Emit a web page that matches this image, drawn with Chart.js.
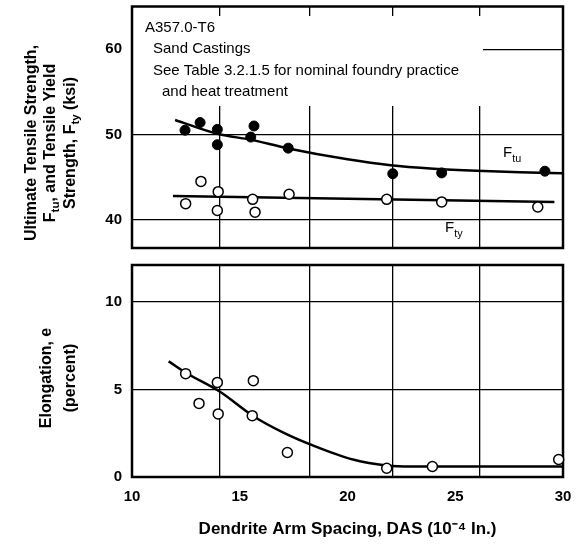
<!DOCTYPE html>
<html>
<head>
<meta charset="utf-8">
<script src="https://cdn.jsdelivr.net/npm/chart.js@4.4.0/dist/chart.umd.min.js"></script>
<style>
  body { margin: 0; background: #fff; }
  #wrap { position: relative; width: 581px; height: 548px; }
  #top { position: absolute; left: 0; top: 0; }
  #bot { position: absolute; left: 0; top: 255px; }
</style>
</head>
<body>
<div id="wrap">
  <canvas id="top" width="581" height="260" style="width:581px;height:260px"></canvas>
  <canvas id="bot" width="581" height="293" style="width:581px;height:293px"></canvas>
</div>
<script>
// axis ticks / grid positions
const xTicks = [10, 15, 20, 25, 30];
const gridX = [14.08, 18.26, 22.1, 26.15];
const strengthTicks = [40, 50, 60];
const elongTicks = [0, 5, 10];

// measured points
const ftuX = [12.46, 13.16, 13.96, 13.96, 15.51, 15.66, 17.25, 22.1, 24.37, 29.16];
const ftuY = [50.5, 51.4, 50.6, 48.8, 49.7, 51.0, 48.4, 45.4, 45.5, 45.7];
const ftyX = [12.49, 13.2, 14.0, 13.96, 15.6, 15.71, 17.29, 21.82, 24.37, 28.83];
const ftyY = [41.9, 44.5, 43.3, 41.1, 42.4, 40.9, 43.0, 42.4, 42.1, 41.5];
const elongX = [12.49, 13.11, 13.96, 14.0, 15.63, 15.58, 17.21, 21.82, 23.94, 29.8];
const elongY = [5.9, 4.2, 5.4, 3.6, 5.5, 3.5, 1.4, 0.5, 0.6, 1.0];

// fitted curves
const ftuCurveX = [12.0, 14.0, 15.5, 17.2, 20, 22, 24, 26, 28, 30];
const ftuCurveY = [51.7, 50.05, 49.4, 48.4, 47.1, 46.4, 46.0, 45.75, 45.58, 45.45];
const ftyLineX = [11.9, 29.6];
const ftyLineY = [42.8, 42.1];
const elongCurveX = [11.7, 12.5, 14.1, 15.6, 17.0, 18.3, 20.3, 21.8, 23.0, 25, 30];
const elongCurveY = [6.6, 5.95, 4.85, 3.5, 2.55, 1.85, 0.98, 0.66, 0.6, 0.6, 0.6];

const FONT = '"Liberation Sans", Arial, Helvetica, sans-serif';

const pts = (xs, ys) => xs.map((x, i) => ({ x: x, y: ys[i] }));

function drawParts(ctx, parts, x, y, size, bold, align) {
  const f = (s) => (bold ? 'bold ' : '') + s + 'px ' + FONT;
  let w = 0;
  parts.forEach(p => { ctx.font = f(p[1] ? size * 0.72 : size); w += ctx.measureText(p[0]).width; });
  let cx = align === 'center' ? x - w / 2 : x;
  ctx.textAlign = 'left';
  parts.forEach(p => {
    ctx.font = f(p[1] ? size * 0.72 : size);
    ctx.fillText(p[0], cx, p[1] ? y + size * 0.3 : y);
    cx += ctx.measureText(p[0]).width;
  });
}

function rotatedTitle(ctx, lines, xs, cy, size) {
  ctx.fillStyle = '#000';
  ctx.textBaseline = 'middle';
  lines.forEach((parts, i) => {
    ctx.save();
    ctx.translate(xs[i], cy);
    ctx.rotate(-Math.PI / 2);
    drawParts(ctx, parts, 0, 0, size, true, 'center');
    ctx.restore();
  });
}

function frame(chart) {
  const a = chart.chartArea, ctx = chart.ctx;
  ctx.save();
  ctx.strokeStyle = '#000';
  ctx.lineWidth = 2.5;
  ctx.strokeRect(a.left, a.top, a.right - a.left, a.bottom - a.top);
  ctx.restore();
}

const gridAxis = {
  type: 'linear', position: 'bottom', min: 10, max: 30,
  afterBuildTicks: (s) => { s.ticks = gridX.map(v => ({ value: v })); },
  ticks: { display: false },
  grid: { color: '#000', lineWidth: 1.3, drawTicks: false },
  border: { display: false },
  afterFit: (s) => { s.height = 0; s.paddingLeft = 0; s.paddingRight = 0; }
};

function yAxis(min, max, ticks) {
  return {
    type: 'linear', min: min, max: max,
    afterBuildTicks: (s) => { s.ticks = ticks.map(v => ({ value: v })); },
    ticks: { color: '#000', padding: 10, font: { family: FONT, size: 15, weight: 'bold' } },
    grid: { color: '#000', lineWidth: 1.3, drawTicks: false },
    border: { display: false },
    afterFit: (s) => { s.width = 132; s.paddingTop = 0; s.paddingBottom = 0; }
  };
}

const openPt = { pointRadius: 5, pointHoverRadius: 5, backgroundColor: '#fff', borderColor: '#000', borderWidth: 1.5, showLine: false };
const solidPt = { pointRadius: 5, pointHoverRadius: 5, backgroundColor: '#000', borderColor: '#000', borderWidth: 1, showLine: false };
const curve = { showLine: true, pointRadius: 0, borderColor: '#000', borderWidth: 2.5, cubicInterpolationMode: 'monotone', fill: false };

const topDecor = {
  id: 'topDecor',
  beforeDatasetsDraw(chart) {
    const ctx = chart.ctx;
    ctx.save();
    ctx.fillStyle = '#fff';
    ctx.fillRect(133, 16, 350, 90);
    ctx.fillStyle = '#000';
    ctx.textBaseline = 'alphabetic';
    ctx.textAlign = 'left';
    ctx.font = '15px ' + FONT;
    ctx.fillText('A357.0-T6', 145, 32);
    ctx.fillText('Sand Castings', 153, 53);
    ctx.fillText('See Table 3.2.1.5 for nominal foundry practice', 153, 75);
    ctx.fillText('and heat treatment', 162, 96);
    drawParts(ctx, [['F', false], ['tu', true]], 503, 157, 15, false, 'left');
    drawParts(ctx, [['F', false], ['ty', true]], 445, 232, 15, false, 'left');
    rotatedTitle(ctx, [
      [['Ultimate Tensile Strength,', false]],
      [['F', false], ['tu', true], [', and Tensile Yield', false]],
      [['Strength, F', false], ['ty', true], [' (ksi)', false]]
    ], [32, 51, 71], 143, 16);
    ctx.restore();
    frame(chart);
  }
};

const botDecor = {
  id: 'botDecor',
  beforeDatasetsDraw(chart) {
    const ctx = chart.ctx;
    ctx.save();
    rotatedTitle(ctx, [
      [['Elongation, e', false]],
      [['(percent)', false]]
    ], [47, 71], 123, 16);
    ctx.restore();
    frame(chart);
  }
};

new Chart(document.getElementById('top'), {
  type: 'scatter',
  data: {
    datasets: [
      Object.assign({ label: 'Ftu', data: pts(ftuX, ftuY) }, solidPt),
      Object.assign({ label: 'Fty', data: pts(ftyX, ftyY) }, openPt),
      Object.assign({ label: 'Ftu curve', data: pts(ftuCurveX, ftuCurveY) }, curve),
      Object.assign({ label: 'Fty line', data: pts(ftyLineX, ftyLineY) }, curve)
    ]
  },
  options: {
    responsive: false,
    animation: false,
    layout: { padding: { left: 0, right: 18, top: 5, bottom: 12 } },
    plugins: { legend: { display: false }, tooltip: { enabled: false } },
    clip: false,
    scales: {
      x: {
        type: 'linear', position: 'bottom', min: 10, max: 30,
        ticks: { display: false }, grid: { display: false }, border: { display: false },
        afterFit: (s) => { s.height = 0; s.paddingLeft = 0; s.paddingRight = 0; }
      },
      xg: gridAxis,
      y: yAxis(36.7, 65, strengthTicks)
    }
  },
  plugins: [topDecor]
});

new Chart(document.getElementById('bot'), {
  type: 'scatter',
  data: {
    datasets: [
      Object.assign({ label: 'Elongation', data: pts(elongX, elongY) }, openPt),
      Object.assign({ label: 'Elongation curve', data: pts(elongCurveX, elongCurveY) }, curve)
    ]
  },
  options: {
    responsive: false,
    animation: false,
    layout: { padding: { left: 0, right: 18, top: 10, bottom: 8 } },
    plugins: { legend: { display: false }, tooltip: { enabled: false } },
    clip: false,
    scales: {
      x: {
        type: 'linear', position: 'bottom', min: 10, max: 30,
        afterBuildTicks: (s) => { s.ticks = xTicks.map(v => ({ value: v })); },
        ticks: { color: '#000', padding: 3, maxRotation: 0, autoSkip: false, font: { family: FONT, size: 15, weight: 'bold' } },
        grid: { display: false },
        border: { display: false },
        title: { display: true, text: 'Dendrite Arm Spacing, DAS (10\u207B\u2074 In.)', color: '#000', padding: 0, font: { family: FONT, size: 17, weight: 'bold' } },
        afterFit: (s) => { s.height = 63; s.paddingLeft = 0; s.paddingRight = 0; }
      },
      xg: Object.assign({}, gridAxis),
      y: yAxis(0, 12.1, elongTicks)
    }
  },
  plugins: [botDecor]
});
</script>
</body>
</html>
